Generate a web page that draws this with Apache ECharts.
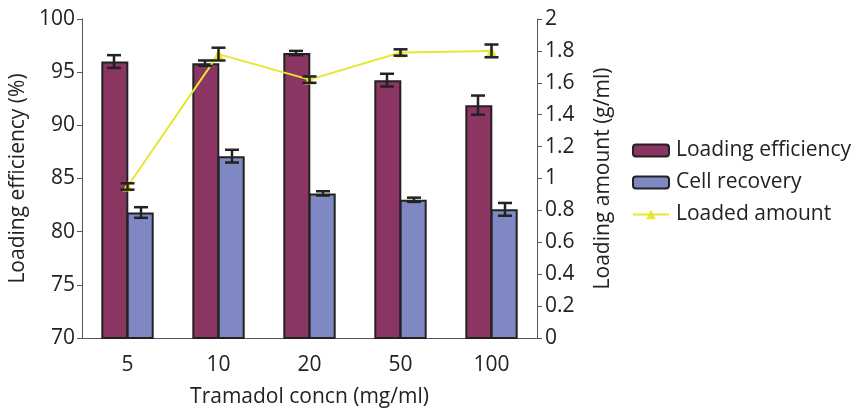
<!DOCTYPE html>
<html>
<head>
<meta charset="utf-8">
<script src="https://cdn.jsdelivr.net/npm/echarts@6/dist/echarts.min.js"></script>
<style>
  html, body { margin: 0; padding: 0; background: #fff; }
  #chart { width: 856px; height: 409px; }
</style>
</head>
<body>
<div id="chart"></div>
<script>
var categories = ['5', '10', '20', '50', '100'];
var efficiency = [96.0, 95.85, 96.8, 94.25, 91.9];
var efficiencyErr = [0.6, 0.25, 0.2, 0.6, 0.9];
var recovery = [81.8, 87.1, 83.6, 83.0, 82.1];
var recoveryErr = [0.5, 0.6, 0.2, 0.2, 0.6];
var loaded = [0.95, 1.78, 1.62, 1.79, 1.80];
var loadedErr = [0.02, 0.04, 0.02, 0.02, 0.04];

var font = 'Open Sans';
var barWidth = 27;
var textStyle = { color: '#222', fontSize: 21, fontFamily: font };

function errData(vals, errs) {
  return vals.map(function (v, i) { return [i, v, errs[i]]; });
}

// draws an error bar with caps, shifted sideways by offset px
function errRender(offset) {
  return function (params, api) {
    var i = api.value(0), v = api.value(1), e = api.value(2);
    var top = api.coord([i, v + e]);
    var bot = api.coord([i, v - e]);
    var x = top[0] + offset;
    var style = { stroke: '#222', lineWidth: 2.5 };
    return {
      type: 'group',
      children: [
        { type: 'line', shape: { x1: x, y1: top[1], x2: x, y2: bot[1] }, style: style },
        { type: 'line', shape: { x1: x - 7, y1: top[1], x2: x + 7, y2: top[1] }, style: style },
        { type: 'line', shape: { x1: x - 7, y1: bot[1], x2: x + 7, y2: bot[1] }, style: style }
      ]
    };
  };
}

var chart = echarts.init(document.getElementById('chart'));
var option = {
  animation: false,
  grid: { left: 82, right: 319, top: 19, bottom: 71, outerBoundsMode: 'none' },
  legend: {
    orient: 'vertical',
    left: 627,
    top: 135,
    itemWidth: 36,
    itemHeight: 12,
    itemGap: 11,
    textStyle: Object.assign({ padding: [0, 0, 0, 2] }, textStyle),
    data: ['Loading efficiency', 'Cell recovery', 'Loaded amount']
  },
  xAxis: {
    type: 'category',
    data: categories,
    name: 'Tramadol concn (mg/ml)',
    nameLocation: 'middle',
    nameGap: 49,
    nameTextStyle: textStyle,
    axisLine: { lineStyle: { color: '#555', width: 1 } },
    axisTick: { length: 7, lineStyle: { color: '#555' } },
    axisLabel: Object.assign({ margin: 17 }, textStyle)
  },
  yAxis: [{
    type: 'value',
    min: 70,
    max: 100,
    interval: 5,
    name: 'Loading efficiency (%)',
    nameLocation: 'middle',
    nameGap: 46,
    nameRotate: 90,
    nameTextStyle: textStyle,
    splitLine: { show: false },
    axisLine: { show: true, lineStyle: { color: '#555' } },
    axisTick: { show: true, length: 5, lineStyle: { color: '#555' } },
    axisLabel: Object.assign({ margin: 7 }, textStyle)
  }, {
    type: 'value',
    min: 0,
    max: 2,
    interval: 0.2,
    name: 'Loading amount (g/ml)',
    nameLocation: 'middle',
    nameGap: 56,
    nameRotate: 90,
    nameTextStyle: textStyle,
    splitLine: { show: false },
    axisLine: { show: true, lineStyle: { color: '#555' } },
    axisTick: { show: true, length: 5, lineStyle: { color: '#555' } },
    axisLabel: Object.assign({
      margin: 8,
      formatter: function (v) { return String(Math.round(v * 10) / 10); }
    }, textStyle)
  }],
  series: [{
    name: 'Loading efficiency',
    type: 'bar',
    barWidth: barWidth,
    barGap: '-6%',
    data: efficiency,
    itemStyle: { color: '#8B3562', borderColor: '#222', borderWidth: 2 }
  }, {
    name: 'Cell recovery',
    type: 'bar',
    barWidth: barWidth,
    barGap: '-6%',
    data: recovery,
    itemStyle: { color: '#7F88C2', borderColor: '#222', borderWidth: 2 }
  }, {
    name: 'Loaded amount',
    type: 'line',
    yAxisIndex: 1,
    data: loaded,
    symbol: 'triangle',
    symbolSize: 10,
    lineStyle: { color: '#E8E62E', width: 2 },
    itemStyle: { color: '#E8E62E' },
    z: 5
  }, {
    type: 'custom',
    renderItem: errRender(-barWidth / 2),
    data: errData(efficiency, efficiencyErr),
    encode: { x: 0, y: 1 },
    z: 6
  }, {
    type: 'custom',
    renderItem: errRender(barWidth / 2),
    data: errData(recovery, recoveryErr),
    encode: { x: 0, y: 1 },
    z: 6
  }, {
    type: 'custom',
    yAxisIndex: 1,
    renderItem: errRender(0),
    data: errData(loaded, loadedErr),
    encode: { x: 0, y: 1 },
    z: 6
  }]
};
chart.setOption(option);
</script>
</body>
</html>
